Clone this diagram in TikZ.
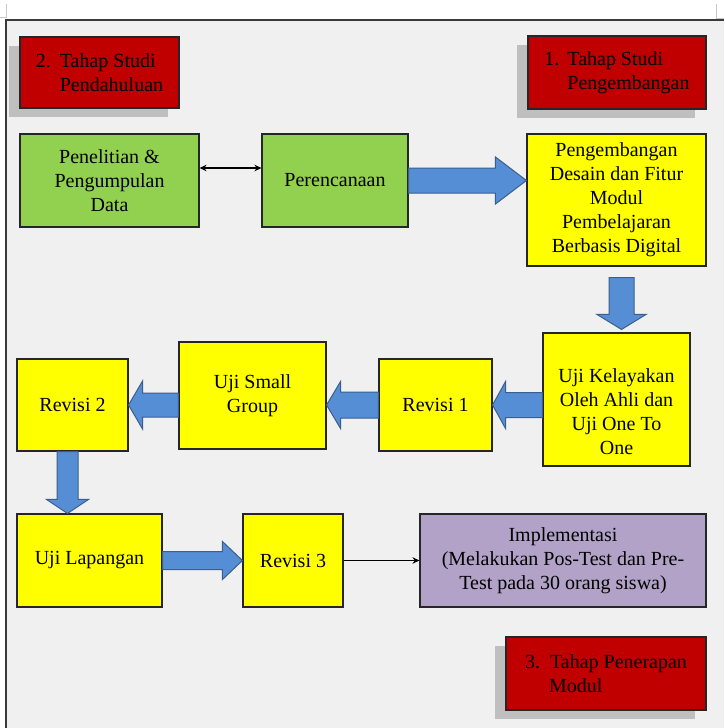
\documentclass[tikz,border=0pt]{standalone}
\usepackage{fontspec}
\setmainfont{Liberation Serif}
\newfontfamily\boxfont{Liberation Serif}
\usetikzlibrary{calc,shadows,arrows.meta}

\definecolor{pagegray}{HTML}{F0F0F0}
\definecolor{framegray}{HTML}{3A3A3A}
\definecolor{markgray}{HTML}{C8C8C8}
\definecolor{redfill}{HTML}{C00000}
\definecolor{greenfill}{HTML}{92D050}
\definecolor{yellowfill}{HTML}{FFFF00}
\definecolor{purplefill}{HTML}{B2A2C7}
\definecolor{bluefill}{HTML}{558ED5}
\definecolor{blueline}{HTML}{3B5F8A}
\definecolor{shadowgray}{HTML}{BFBFBF}
\definecolor{boxline}{HTML}{262626}

\tikzset{
  box/.style={draw=boxline, line width=1.1pt, inner sep=2pt, align=center,
    text=black, font=\boxfont\fontsize{20}{24}\selectfont},
  redbox/.style={box, fill=redfill, align=left,
    drop shadow={shadow xshift=-11pt, shadow yshift=-9pt, fill=shadowgray, opacity=1}},
  greenbox/.style={box, fill=greenfill},
  yellowbox/.style={box, fill=yellowfill},
  purplebox/.style={box, fill=purplefill},
  bluearrow/.style={fill=bluefill, draw=blueline, line width=1pt, line join=miter},
  thinarrow/.style={line width=1.2pt, black, >={Stealth[length=7pt, width=6.5pt]}}
}

% block arrow: start, tip, half shaft, half head, head length
\newcommand{\flowarrow}[5]{%
  \coordinate (ba) at ($(#2)!#5!(#1)$);
  \draw[bluearrow] ($(#1)!#3!90:(#2)$) -- ($(ba)!#3!90:(#2)$) -- ($(ba)!#4!90:(#2)$)
    -- (#2) -- ($(ba)!#4!-90:(#2)$) -- ($(ba)!#3!-90:(#2)$) -- ($(#1)!#3!-90:(#2)$) -- cycle;}

\begin{document}
\begin{tikzpicture}[x=1pt, y=-1pt]

    \useasboundingbox (0,0) rectangle (724,728);
    \fill[white] (0,0) rectangle (724,728);
    \fill[pagegray] (6,20) rectangle (724,728);
    \draw[framegray, line width=1.3pt] (6,728) -- (6,20) -- (724,20);
    \draw[markgray, line width=0.8pt] (6,4) -- (6,17) -- (0,17);
    \draw[markgray, line width=0.8pt] (716,4) -- (716,18) -- (724,18);

    \node[redbox, minimum width=159pt, minimum height=71pt] (tahap2) at (99.5,72.5)
        {\makebox[24pt][l]{2.}Tahap Studi\\\hspace*{24pt}Pendahuluan};
    \node[redbox, minimum width=178pt, minimum height=73pt] (tahap1) at (617,72.5)
        {\makebox[23pt][l]{1.}Tahap Studi\\\hspace*{23pt}Pengembangan};
    \node[redbox, minimum width=200pt, minimum height=73pt] (tahap3) at (606,673.5)
        {\makebox[25pt][l]{3.}Tahap Penerapan\\\hspace*{24pt}Modul};

    \node[greenbox, minimum width=179pt, minimum height=93pt] (penelitian) at (109.5,180.5)
        {Penelitian \&\\Pengumpulan\\Data};
    \node[greenbox, minimum width=146pt, minimum height=93pt] (perencanaan) at (335,180.5)
        {Perencanaan};
    \node[yellowbox, minimum width=179pt, minimum height=132pt] (desain) at (616.5,200)
        {Pengembangan\\Desain dan Fitur\\Modul\\Pembelajaran\\Berbasis Digital};

    \node[yellowbox, minimum width=147pt, minimum height=133pt] (ujiahli) at (616.5,399.5) {};
    \node[box, draw=none] (ujiahlitext) at (616.5,412)
        {Uji Kelayakan\\Oleh Ahli dan\\Uji One To\\One};
    \node[yellowbox, minimum width=113pt, minimum height=92pt] (revisi1) at (435.5,405)
        {Revisi 1};
    \node[yellowbox, minimum width=147pt, minimum height=107pt] (smallgroup) at (252.5,395.5)
        {Uji Small\\Group};
    \node[yellowbox, minimum width=111pt, minimum height=92pt] (revisi2) at (72.5,405)
        {Revisi 2};

    \node[yellowbox, minimum width=145pt, minimum height=93pt] (lapangan) at (89.5,560.5)
        {Uji Lapangan};
    \node[yellowbox, minimum width=100pt, minimum height=93pt] (revisi3) at (293,560.5)
        {Revisi 3};
    \node[purplebox, minimum width=286pt, minimum height=93pt] (implementasi) at (563,560.5)
        {Implementasi\\(Melakukan Pos-Test dan Pre-\\Test pada 30 orang siswa)};

    \coordinate (a1t) at (desain.west |- perencanaan.east);
    \coordinate (a2s) at ($(desain.south)+(5,11)$);
    \coordinate (a2t) at ($(ujiahli.north)+(5,-3)$);
    \coordinate (a3s) at (ujiahli.west |- revisi1.east);
    \coordinate (a4t) at (smallgroup.east |- revisi1.west);
    \coordinate (a5s) at (smallgroup.west |- revisi2.east);
    \coordinate (a6s) at ($(revisi2.south)+(-5,0)$);
    \coordinate (a6t) at (a6s |- lapangan.north);

    \flowarrow{perencanaan.east}{a1t}{12.5pt}{23.5pt}{31pt}
    \flowarrow{a2s}{a2t}{12.5pt}{24.5pt}{15pt}
    \flowarrow{a3s}{revisi1.east}{12.5pt}{23.5pt}{13pt}
    \flowarrow{revisi1.west}{a4t}{13pt}{23.5pt}{14pt}
    \flowarrow{a5s}{revisi2.east}{12pt}{24pt}{14pt}
    \flowarrow{a6s}{a6t}{10.5pt}{21pt}{14pt}
    \flowarrow{lapangan.east}{revisi3.west}{9pt}{19pt}{20pt}

    \draw[thinarrow, <->] ([yshift=12.5pt]penelitian.east) -- ([yshift=12.5pt]perencanaan.west);
    \draw[thinarrow, ->] (revisi3.east) -- (implementasi.west);

\end{tikzpicture}
\end{document}
